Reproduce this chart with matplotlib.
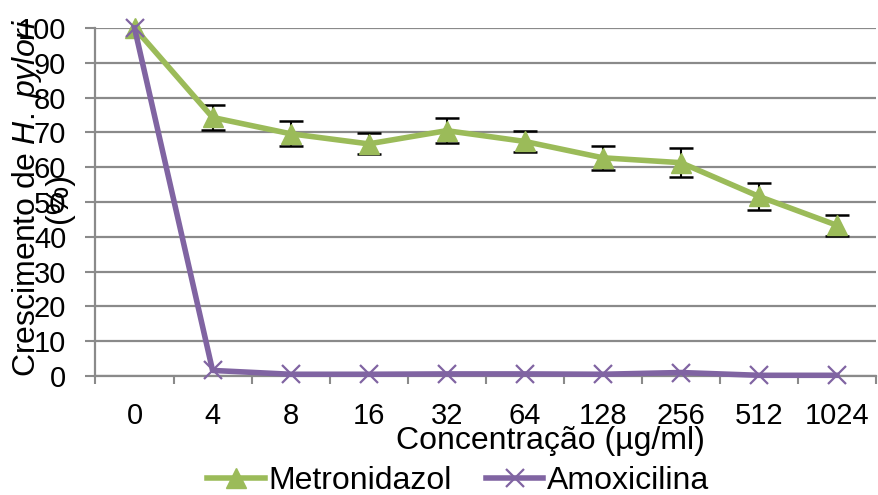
import matplotlib
matplotlib.use("Agg")
import matplotlib.pyplot as plt
import numpy as np

plt.rcParams["font.family"] = ["Liberation Sans", "DejaVu Sans"]
plt.rcParams["mathtext.fontset"] = "custom"
plt.rcParams["mathtext.rm"] = "Liberation Sans"
plt.rcParams["mathtext.it"] = "Liberation Sans:italic"

C_MET, C_AMX = "#9BBB59", "#8064A2"
GRID = "#8A8A8A"

conc = ["0", "4", "8", "16", "32", "64", "128", "256", "512", "1024"]
metro = [100, 74.3, 69.6, 66.7, 70.5, 67.4, 62.7, 61.3, 51.6, 43.3]
metro_err = [0, 3.5, 3.6, 3.0, 3.6, 3.0, 3.4, 4.2, 3.8, 3.0]
amox = [100, 1.6, 0.5, 0.5, 0.6, 0.6, 0.5, 1.0, 0.2, 0.2]

W, H = 879, 495
fig = plt.figure(figsize=(W / 100, H / 100), dpi=100)
ax = fig.add_axes([95.5 / W, 1 - 376 / H, (876 - 95.5) / W, (376 - 28) / H])

x = np.arange(len(conc))

# error bars sit under the line and markers
ax.errorbar(x[1:], metro[1:], yerr=metro_err[1:], fmt="none", ecolor="black",
            elinewidth=1.5, capsize=8.5, capthick=1.8, zorder=3, clip_on=False)
ax.plot(x, metro, color=C_MET, lw=4, marker="^", ms=15, mec=C_MET,
        mfc=C_MET, label="Metronidazol", zorder=4, clip_on=False)
ax.plot(x, amox, color=C_AMX, lw=4, marker="x", ms=13, mew=1.6,
        label="Amoxicilina", zorder=5, clip_on=False)

ax.set_xlim(-0.5, len(conc) - 0.5)
ax.set_ylim(0, 100)
ax.set_yticks(np.arange(0, 101, 10))
ax.set_xticks(x)
ax.set_xticklabels(conc)
ax.set_xticks(np.arange(-0.5, len(conc)), minor=True)
ax.tick_params(axis="x", which="major", length=0, pad=19, labelsize=21)
ax.tick_params(axis="x", which="minor", length=6, width=1.5, color=GRID,
               direction="out")
ax.tick_params(axis="y", length=7, width=1.5, color=GRID, pad=14, labelsize=21)

ax.grid(axis="y", color=GRID, lw=1.6, zorder=0)
ax.set_axisbelow(True)
for sp in ("top", "right"):
    ax.spines[sp].set_visible(False)
for sp in ("left", "bottom"):
    ax.spines[sp].set_color(GRID)
    ax.spines[sp].set_linewidth(1.6)

fig.text(550 / W, 1 - 441 / H, "Concentração (µg/ml)", fontsize=23,
         ha="center", va="center")
fig.text(42 / W, 1 - 198 / H, "Crescimento de $\\mathit{H.\\ pylori}$\n(%)",
         fontsize=23, rotation=90, ha="center", va="center",
         multialignment="center", linespacing=1.0)

fig.legend(loc="center", bbox_to_anchor=(458 / W, 1 - 481 / H), ncol=2,
           frameon=False, fontsize=23, handlelength=1.8, handletextpad=0.1,
           columnspacing=1.08, numpoints=1, borderpad=0, borderaxespad=0)

fig.savefig("out.png", dpi=100)
